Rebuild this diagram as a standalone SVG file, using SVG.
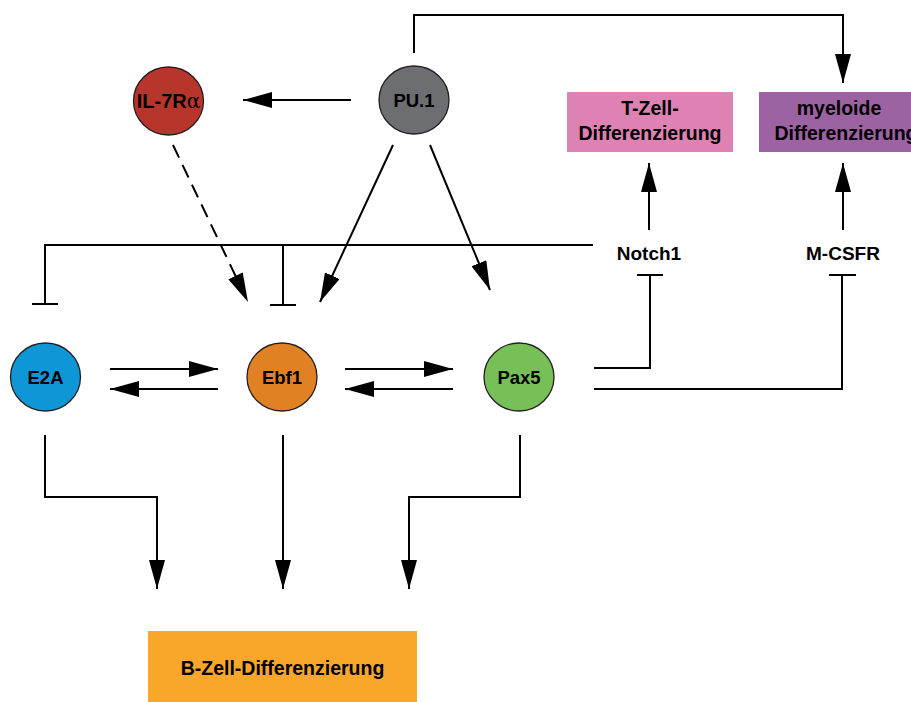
<svg xmlns="http://www.w3.org/2000/svg" width="911" height="702" viewBox="0 0 911 702">
<defs>
<marker id="ah" viewBox="0 0 29 16" refX="29" refY="8" markerWidth="29" markerHeight="16" markerUnits="userSpaceOnUse" orient="auto">
<path d="M0,0 L29,8 L0,16 z" fill="#000"/>
</marker>
</defs>
<style>
.c{stroke:#231f20;stroke-width:1.3}
.l{fill:none;stroke:#000;stroke-width:2}
.a{marker-end:url(#ah)}
.d{stroke-dasharray:14 8}
text{font-family:"Liberation Sans",Arial,Helvetica,sans-serif;font-weight:bold;fill:#000;text-anchor:middle}
.n{font-size:18.5px}
.b{font-size:19.5px}
.t{font-size:19px}
</style>
<rect width="911" height="702" fill="#fff"/>
<g id="connectors">
<line class="l a" x1="351" y1="100" x2="243" y2="100"/>
<path class="l a" d="M414,53 V15 H843 V83"/>
<line class="l a d" x1="173" y1="145" x2="248" y2="302"/>
<line class="l a" x1="393" y1="145" x2="320" y2="302"/>
<line class="l a" x1="430" y1="145" x2="490" y2="290"/>
<line class="l a" x1="649" y1="230" x2="649" y2="163"/>
<line class="l a" x1="843" y1="230" x2="843" y2="163"/>
<path class="l" d="M593,245 H45 V304 M32,304 H58 M283,245 V305 M270,305 H296"/>
<path class="l" d="M594,368 H650 V275 M637,275 H663"/>
<path class="l" d="M594,389 H842 V275 M829,275 H856"/>
<line class="l a" x1="110" y1="369" x2="218" y2="369"/>
<line class="l a" x1="218" y1="389" x2="110" y2="389"/>
<line class="l a" x1="345" y1="369" x2="453" y2="369"/>
<line class="l a" x1="453" y1="389" x2="345" y2="389"/>
<path class="l a" d="M45,435 V497 H157 V589"/>
<line class="l a" x1="283" y1="435" x2="283" y2="589"/>
<path class="l a" d="M520,435 V497 H409 V589"/>
</g>
<g id="pu1">
<ellipse class="c" cx="414" cy="100" rx="35" ry="34" fill="#6d6e71"/>
<text class="n" x="414" y="106.5">PU.1</text>
</g>
<g id="il7ra">
<ellipse class="c" cx="168.5" cy="101" rx="35" ry="34" fill="#b8352b"/>
<text x="168.5" y="108" style="font-size:20px">IL-7R<tspan style="font-family:'DejaVu Serif',serif;font-weight:normal">α</tspan></text>
</g>
<g id="e2a">
<ellipse class="c" cx="45.5" cy="377" rx="35" ry="34" fill="#0f96d6"/>
<text class="n" x="45.5" y="383.5">E2A</text>
</g>
<g id="ebf1">
<ellipse class="c" cx="282" cy="377" rx="35" ry="34" fill="#e08224"/>
<text class="n" x="282" y="383.5">Ebf1</text>
</g>
<g id="pax5">
<ellipse class="c" cx="519" cy="377" rx="35" ry="34" fill="#77c057"/>
<text class="n" x="519" y="383.5">Pax5</text>
</g>
<g id="notch1">
<text class="t" x="649" y="259.5">Notch1</text>
</g>
<g id="mcsfr">
<text class="t" x="843" y="259.5">M-CSFR</text>
</g>
<g id="tzell">
<rect x="567" y="92" width="166" height="60" fill="#dd82b2"/>
<text class="b" x="650" y="115">T-Zell-</text>
<text class="b" x="650" y="140">Differenzierung</text>
</g>
<g id="myeloid">
<rect x="759" y="92" width="160" height="60" fill="#9c62a2"/>
<text class="b" x="839" y="115">myeloide</text>
<text class="b" x="846" y="140">Differenzierung</text>
</g>
<g id="bzell">
<rect x="148" y="631" width="269" height="80" fill="#f9a72a"/>
<text class="b" x="282.5" y="675">B-Zell-Differenzierung</text>
</g>
</svg>
